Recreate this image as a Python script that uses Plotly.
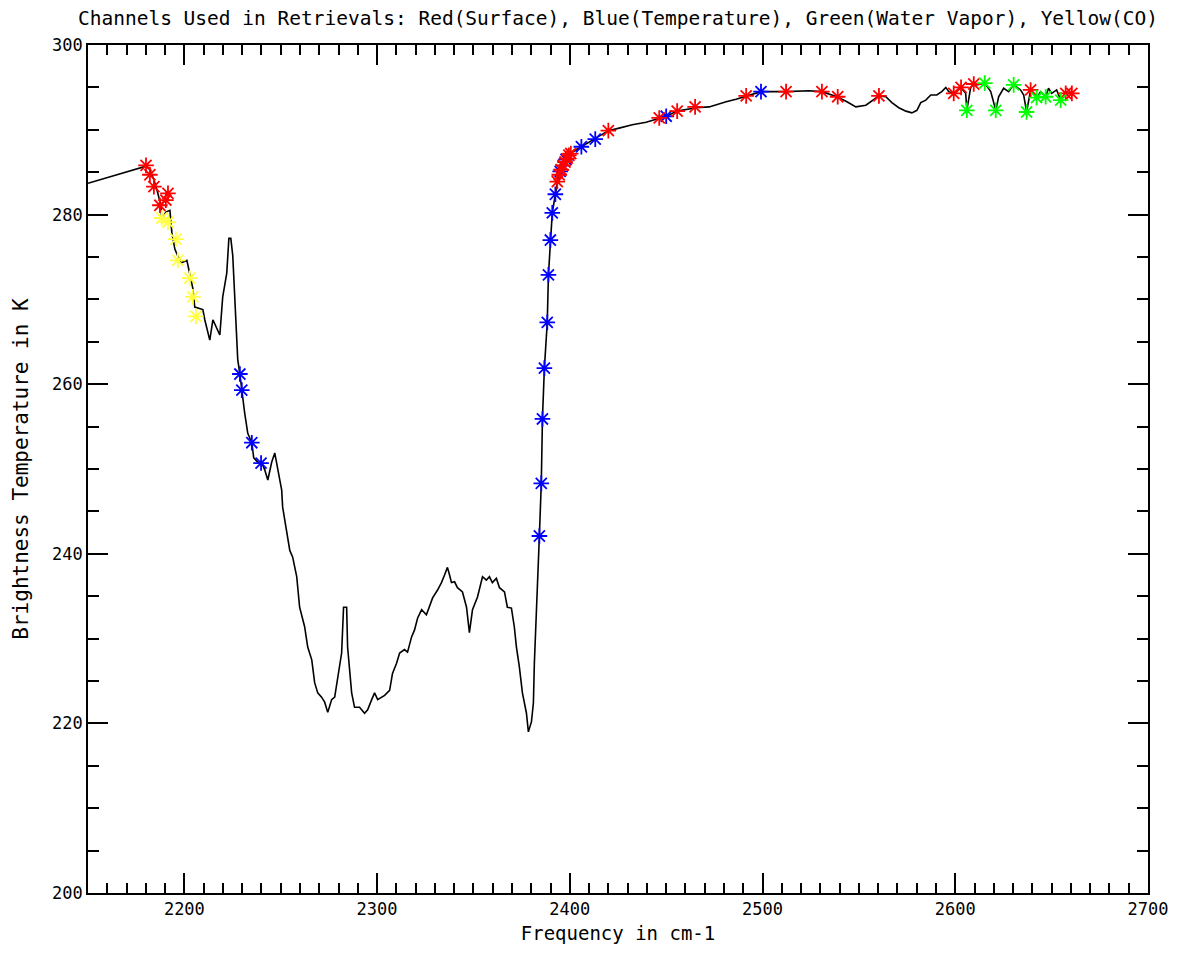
import plotly.graph_objects as go

# Spectrum (black line)
freq = [2150.0, 2180.1, 2182.1, 2184.2, 2185.8, 2187.8, 2188.3, 2190.4, 2192.5, 2193.5,
        2195.1, 2198.2, 2201.3, 2202.8, 2204.4, 2205.4, 2207.0, 2209.6, 2210.6, 2212.2,
        2213.2, 2214.8, 2216.8, 2218.4, 2219.9, 2222.0, 2223.1, 2224.1, 2225.1, 2226.2,
        2227.2, 2227.7, 2228.8, 2229.8, 2231.3, 2232.9, 2235.0, 2236.0, 2238.1, 2240.2,
        2241.7, 2243.3, 2245.3, 2246.9, 2248.4, 2250.5, 2251.0, 2253.1, 2254.7, 2256.2,
        2258.3, 2259.8, 2262.4, 2264.0, 2266.1, 2267.6, 2269.2, 2271.2, 2272.8, 2274.4,
        2276.4, 2278.0, 2279.5, 2281.6, 2282.6, 2284.2, 2284.7, 2286.8, 2288.3, 2290.9,
        2293.5, 2295.1, 2297.2, 2298.7, 2300.3, 2303.9, 2306.5, 2308.0, 2310.1, 2311.7,
        2314.2, 2315.8, 2317.9, 2319.4, 2321.0, 2323.1, 2325.6, 2327.2, 2328.8, 2331.3,
        2333.4, 2335.0, 2336.5, 2337.6, 2338.6, 2340.2, 2341.7, 2344.3, 2346.4, 2347.9,
        2349.5, 2352.1, 2354.7, 2356.7, 2358.3, 2359.8, 2361.9, 2363.5, 2366.1, 2367.6,
        2369.7, 2371.2, 2372.3, 2373.8, 2375.4, 2377.5, 2378.5, 2380.1, 2381.1, 2381.6,
        2382.6, 2383.7, 2384.2, 2385.2, 2385.8, 2386.8, 2388.3, 2388.9, 2389.9, 2390.9,
        2392.5, 2394.0, 2396.1, 2398.7, 2400.8, 2406.0, 2413.2, 2420.0, 2425.6, 2432.4,
        2439.6, 2446.4, 2450.0, 2455.7, 2465.5, 2472.3, 2474.9, 2481.1, 2486.3, 2491.5,
        2499.2, 2512.2, 2524.1, 2530.8, 2538.6, 2543.8, 2548.4, 2553.6, 2556.2, 2560.4,
        2564.0, 2567.1, 2570.7, 2574.4, 2577.5, 2580.1, 2582.1, 2584.7, 2587.3, 2590.4,
        2593.0, 2595.1, 2596.6, 2599.2, 2602.8, 2605.4, 2606.0, 2608.0, 2609.6, 2611.1,
        2615.3, 2618.4, 2621.0, 2622.5, 2625.1, 2627.7, 2630.3, 2633.9, 2635.5, 2637.0,
        2639.1, 2640.7, 2642.2, 2644.3, 2646.9, 2648.4, 2650.0, 2652.6, 2654.7, 2657.3,
        2661.4]
tb = [283.7, 285.7, 285.3, 284.1, 282.9, 281.1, 279.4, 280.3, 280.5, 277.9,
      275.9, 274.3, 274.6, 273.1, 271.3, 269.1, 269.0, 268.8, 267.6, 266.0,
      265.2, 267.6, 266.7, 265.8, 270.3, 273.1, 277.2, 277.2, 275.2, 269.9,
      266.0, 262.9, 261.2, 259.3, 256.6, 254.2, 253.1, 251.3, 250.8, 250.7,
      249.9, 248.7, 250.8, 251.9, 250.2, 247.5, 245.5, 242.8, 240.4, 239.6,
      237.3, 233.7, 231.4, 229.0, 227.5, 224.8, 223.6, 223.1, 222.5, 221.3,
      222.8, 223.1, 225.1, 228.3, 233.7, 233.7, 229.0, 223.6, 221.9, 221.9,
      221.2, 221.6, 222.8, 223.6, 222.8, 223.3, 223.9, 225.9, 227.1, 228.3,
      228.7, 228.4, 230.2, 231.0, 232.4, 233.4, 232.8, 233.7, 234.8, 235.7,
      236.6, 237.5, 238.4, 237.5, 236.6, 236.7, 236.0, 235.5, 233.7, 230.7,
      233.4, 234.9, 237.3, 236.9, 237.3, 236.6, 237.1, 236.0, 235.5, 233.7,
      233.6, 231.4, 229.0, 226.7, 223.6, 221.2, 219.0, 220.2, 222.4, 227.1,
      232.2, 238.4, 242.1, 248.3, 255.9, 261.9, 267.3, 272.9, 277.0, 280.2,
      282.4, 284.4, 285.6, 286.7, 287.3, 288.0, 288.9, 289.9, 290.2, 290.6,
      290.9, 291.4, 291.6, 292.2, 292.6, 292.7, 292.9, 293.3, 293.6, 294.0,
      294.5, 294.5, 294.6, 294.5, 293.9, 293.3, 292.7, 292.9, 293.3, 294.0,
      293.9, 293.2, 292.6, 292.2, 292.0, 292.3, 293.2, 293.5, 294.1, 294.1,
      294.5, 295.0, 294.5, 294.3, 295.0, 294.3, 292.3, 295.0, 295.4, 295.3,
      295.5, 294.5, 292.3, 293.9, 294.9, 294.5, 295.3, 294.7, 294.1, 292.1,
      294.7, 294.3, 293.8, 294.5, 293.9, 294.9, 294.3, 294.7, 293.5, 294.3,
      294.3]

# Channels used in retrievals
co_freq = [2188.3, 2191.5, 2195.6, 2196.6, 2202.8, 2204.4, 2206.0]
co_tb = [279.6, 279.1, 277.1, 274.6, 272.5, 270.3, 268.0]

temp_freq = [2228.8, 2229.8, 2235.0, 2239.8, 2384.2, 2385.2, 2385.8, 2386.8, 2388.3,
             2388.9, 2389.9, 2390.9, 2392.5, 2395.0, 2398.0, 2406.0, 2413.2, 2450.0,
             2499.2]
temp_tb = [261.2, 259.3, 253.1, 250.7, 242.1, 248.3, 255.9, 261.9, 267.3,
           272.9, 277.0, 280.2, 282.4, 285.1, 286.5, 288.0, 288.9, 291.6,
           294.5]

surf_freq = [2180.1, 2182.1, 2184.2, 2187.3, 2190.4, 2191.5,
             2393.5, 2394.5, 2395.5, 2396.5, 2397.5, 2398.5, 2399.5, 2400.5,
             2420.0, 2446.4, 2455.7, 2465.0, 2491.5, 2512.2, 2530.8, 2539.0,
             2560.4, 2599.2, 2603.0, 2609.6, 2639.1, 2657.3, 2660.5]
surf_tb = [285.8, 284.7, 283.3, 281.1, 281.7, 282.5,
           283.9, 284.7, 285.3, 285.8, 286.2, 286.6, 287.0, 287.2,
           289.9, 291.4, 292.2, 292.7, 294.0, 294.5, 294.5, 293.9,
           294.0, 294.3, 295.0, 295.4, 294.7, 294.3, 294.3]

wv_freq = [2606.0, 2615.3, 2621.0, 2630.3, 2637.0, 2642.2, 2646.9, 2654.7]
wv_tb = [292.3, 295.5, 292.3, 295.3, 292.1, 293.8, 293.9, 293.5]

x_ticks = [2200, 2300, 2400, 2500, 2600, 2700]
y_ticks = [200, 220, 240, 260, 280, 300]

FONT = "DejaVu Sans Mono"

fig = go.Figure()
fig.add_trace(go.Scatter(x=freq, y=tb, mode="lines",
                         line=dict(color="black", width=1.6), showlegend=False))


def stars(x, y, color):
    fig.add_trace(go.Scatter(x=x, y=y, mode="markers", showlegend=False,
                             marker=dict(symbol="asterisk-open", size=13, color=color,
                                         line=dict(color=color, width=1.8))))


stars(co_freq, co_tb, "#ffff40")
stars(temp_freq, temp_tb, "#0000ff")
stars(surf_freq, surf_tb, "#ff0000")
stars(wv_freq, wv_tb, "#00ff00")

axis_common = dict(
    showgrid=False, zeroline=False, showline=True, linecolor="black", linewidth=1.8,
    mirror="ticks", ticks="inside", ticklen=20, tickwidth=1.5, tickcolor="black",
    tickfont=dict(family=FONT, size=17, color="black"),
)

fig.update_layout(
    width=1179, height=953,
    margin=dict(l=80, r=39, t=37, b=68),
    paper_bgcolor="white", plot_bgcolor="white",
    font=dict(family=FONT, color="black"),
    title=dict(text="Channels Used in Retrievals: Red(Surface), Blue(Temperature), Green(Water Vapor), Yellow(CO)",
               x=0.5, xref="paper", xanchor="center", y=0.9895, yref="container", yanchor="middle",
               font=dict(family=FONT, size=19.5, color="black")),
    xaxis=dict(range=[2150, 2700], tickvals=x_ticks, ticktext=[str(v) for v in x_ticks],
               minor=dict(dtick=10, tick0=2150, ticks="inside", ticklen=10, tickwidth=1.5, tickcolor="black"),
               title=dict(text="Frequency in cm-1", font=dict(family=FONT, size=19), standoff=8),
               **axis_common),
    yaxis=dict(range=[200, 300], tickvals=y_ticks, ticktext=[str(v) for v in y_ticks],
               minor=dict(dtick=5, tick0=200, ticks="inside", ticklen=11, tickwidth=1.5, tickcolor="black"),
               title=dict(text="Brightness Temperature in K", font=dict(family=FONT, size=21), standoff=18),
               **axis_common),
)

fig.write_html("out.html")
